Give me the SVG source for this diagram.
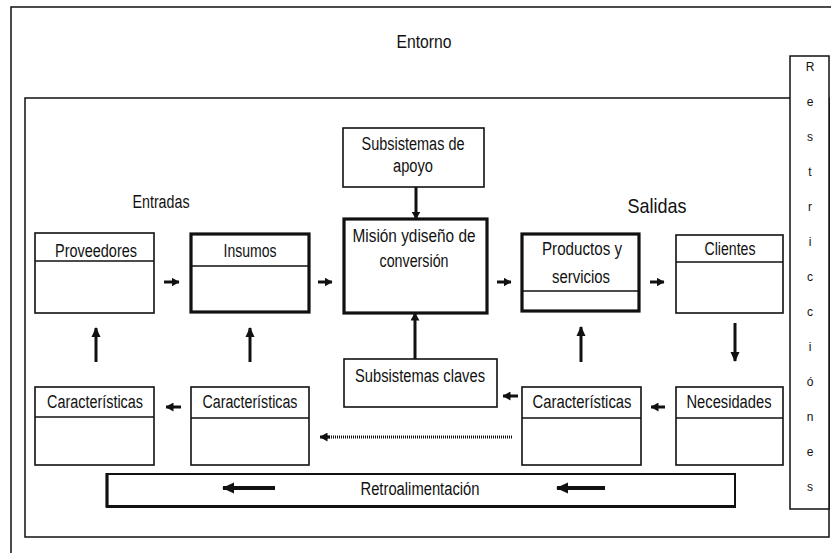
<svg xmlns="http://www.w3.org/2000/svg" width="831" height="553" viewBox="0 0 831 553">
<style>
  .frame{fill:none;stroke:#111;stroke-width:1.5}
  .box{fill:#fff;stroke:#111;stroke-width:1.6}
  .thick{fill:#fff;stroke:#111;stroke-width:3.2}
  .div{stroke:#111;stroke-width:1.6}
  .t{font-family:"Liberation Sans Narrow","Liberation Sans",Arial,sans-serif;font-size:18px;fill:#111;text-anchor:middle}
  .big{font-size:21px}
  .r{font-family:"Liberation Sans",Arial,sans-serif;font-size:12px;fill:#111;text-anchor:middle}
  .a{stroke:#111;stroke-width:3;fill:none}
  .s{stroke:#111;stroke-width:3;fill:none}
  .dot{stroke:#111;stroke-width:3;fill:none;stroke-dasharray:1 1}
</style>
<defs>
  <marker id="ah" markerUnits="userSpaceOnUse" markerWidth="10" markerHeight="10" viewBox="0 0 10 10" refX="9" refY="5" orient="auto">
    <path d="M0,0.5 L10,5 L0,9.5 Z" fill="#111"/>
  </marker>
  <marker id="sh" markerUnits="userSpaceOnUse" markerWidth="8" markerHeight="9" viewBox="0 0 8 9" refX="7.5" refY="4.5" orient="auto">
    <path d="M0,0 L8,4.5 L0,9 Z" fill="#111"/>
  </marker>
  <marker id="bh" markerUnits="userSpaceOnUse" markerWidth="12" markerHeight="12" viewBox="0 0 12 12" refX="11" refY="6" orient="auto">
    <path d="M0,0.5 L12,6 L0,11.5 Z" fill="#111"/>
  </marker>
</defs>

<g id="entorno">
  <rect class="frame" x="11" y="7" width="830" height="560"/>
  <text class="t" x="424" y="48" textLength="55" lengthAdjust="spacingAndGlyphs">Entorno</text>
</g>
<g id="sistema">
  <rect class="frame" x="25" y="98" width="804" height="439"/>
</g>
<g id="restricciones">
  <rect x="790" y="56" width="39" height="453" fill="#fff" stroke="#111" stroke-width="1.5"/>
  <text class="r" x="810" y="71">R</text>
  <text class="r" x="810" y="106">e</text>
  <text class="r" x="810" y="141">s</text>
  <text class="r" x="810" y="176">t</text>
  <text class="r" x="810" y="211">r</text>
  <text class="r" x="810" y="246">i</text>
  <text class="r" x="810" y="281">c</text>
  <text class="r" x="810" y="316">c</text>
  <text class="r" x="810" y="351">i</text>
  <text class="r" x="810" y="386">ó</text>
  <text class="r" x="810" y="421">n</text>
  <text class="r" x="810" y="456">e</text>
  <text class="r" x="810" y="491">s</text>
</g>
<g id="entradas-label"><text class="t" x="161" y="208" textLength="57" lengthAdjust="spacingAndGlyphs">Entradas</text></g>
<g id="salidas-label"><text class="t big" x="657" y="213" textLength="59" lengthAdjust="spacingAndGlyphs">Salidas</text></g>

<g id="proveedores">
  <rect class="box" x="35" y="233" width="119" height="80"/>
  <line class="div" x1="35" y1="261" x2="154" y2="261"/>
  <text class="t" x="96" y="257" textLength="82" lengthAdjust="spacingAndGlyphs">Proveedores</text>
</g>
<g id="insumos">
  <rect class="thick" x="191" y="234" width="118" height="78"/>
  <line class="div" x1="191" y1="266" x2="309" y2="266"/>
  <text class="t" x="250" y="257" textLength="53" lengthAdjust="spacingAndGlyphs">Insumos</text>
</g>
<g id="apoyo">
  <rect class="box" x="343" y="128" width="141" height="59"/>
  <text class="t" x="413" y="150" textLength="103" lengthAdjust="spacingAndGlyphs">Subsistemas de</text>
  <text class="t" x="413" y="172" textLength="40" lengthAdjust="spacingAndGlyphs">apoyo</text>
</g>
<g id="mision">
  <rect class="thick" x="344" y="219" width="143" height="94"/>
  <text class="t" x="414" y="242" textLength="123" lengthAdjust="spacingAndGlyphs">Misión ydiseño de</text>
  <text class="t" x="414" y="267" textLength="69" lengthAdjust="spacingAndGlyphs">conversión</text>
</g>
<g id="productos">
  <rect class="thick" x="522" y="234" width="117" height="77"/>
  <line class="div" x1="522" y1="291" x2="639" y2="291"/>
  <text class="t" x="582" y="255" textLength="80" lengthAdjust="spacingAndGlyphs">Productos y</text>
  <text class="t" x="581" y="283" textLength="58" lengthAdjust="spacingAndGlyphs">servicios</text>
</g>
<g id="clientes">
  <rect class="box" x="676" y="235" width="107" height="78"/>
  <line class="div" x1="676" y1="262" x2="783" y2="262"/>
  <text class="t" x="730" y="255" textLength="51" lengthAdjust="spacingAndGlyphs">Clientes</text>
</g>
<g id="caracteristicas1">
  <rect class="box" x="35" y="387" width="119" height="78"/>
  <line class="div" x1="35" y1="417" x2="154" y2="417"/>
  <text class="t" x="95" y="408" textLength="96" lengthAdjust="spacingAndGlyphs">Características</text>
</g>
<g id="caracteristicas2">
  <rect class="box" x="191" y="387" width="118" height="78"/>
  <line class="div" x1="191" y1="418" x2="309" y2="418"/>
  <text class="t" x="250" y="408" textLength="95" lengthAdjust="spacingAndGlyphs">Características</text>
</g>
<g id="claves">
  <rect class="box" x="344" y="359" width="153" height="48"/>
  <text class="t" x="420" y="382" textLength="130" lengthAdjust="spacingAndGlyphs">Subsistemas claves</text>
</g>
<g id="caracteristicas3">
  <rect class="box" x="522" y="387" width="119" height="78"/>
  <line class="div" x1="522" y1="418" x2="641" y2="418"/>
  <text class="t" x="582" y="408" textLength="99" lengthAdjust="spacingAndGlyphs">Características</text>
</g>
<g id="necesidades">
  <rect class="box" x="676" y="387" width="107" height="78"/>
  <line class="div" x1="676" y1="418" x2="783" y2="418"/>
  <text class="t" x="729" y="408" textLength="85" lengthAdjust="spacingAndGlyphs">Necesidades</text>
</g>
<g id="retroalimentacion">
  <rect x="107" y="474" width="628" height="32" fill="#fff" stroke="#111" stroke-width="2"/>
  <line x1="107" y1="473" x2="107" y2="507.5" stroke="#111" stroke-width="3.2"/>
  <line x1="106" y1="506.5" x2="736" y2="506.5" stroke="#111" stroke-width="3.2"/>
  <text class="t" x="420" y="495" textLength="119" lengthAdjust="spacingAndGlyphs">Retroalimentación</text>
</g>

<g id="connectors">
  <line class="s" x1="164" y1="282" x2="179" y2="282" marker-end="url(#sh)"/>
  <line class="s" x1="318" y1="282" x2="332" y2="282" marker-end="url(#sh)"/>
  <line class="s" x1="497" y1="282" x2="511" y2="282" marker-end="url(#sh)"/>
  <line class="s" x1="650" y1="282" x2="664" y2="282" marker-end="url(#sh)"/>
  <line class="s" x1="665" y1="407" x2="651" y2="407" marker-end="url(#sh)"/>
  <line class="s" x1="518" y1="396" x2="503" y2="396" marker-end="url(#sh)"/>
  <line class="s" x1="181" y1="407" x2="166" y2="407" marker-end="url(#sh)"/>
  <line class="a" x1="96" y1="362" x2="96" y2="328" marker-end="url(#ah)"/>
  <line class="a" x1="250" y1="362" x2="250" y2="328" marker-end="url(#ah)"/>
  <line class="a" x1="581" y1="362" x2="581" y2="327" marker-end="url(#ah)"/>
  <line class="a" x1="735" y1="323" x2="735" y2="361" marker-end="url(#ah)"/>
  <line class="a" x1="416" y1="187" x2="416" y2="219" marker-end="url(#sh)"/>
  <line class="a" x1="415" y1="359" x2="415" y2="313" marker-end="url(#sh)"/>
  <line class="dot" x1="512" y1="437" x2="326" y2="437"/>
  <line class="s" x1="330" y1="437" x2="320" y2="437" marker-end="url(#sh)"/>
  <line x1="275" y1="488" x2="223" y2="488" stroke="#111" stroke-width="4" marker-end="url(#bh)"/>
  <line x1="605" y1="488" x2="557" y2="488" stroke="#111" stroke-width="4" marker-end="url(#bh)"/>
</g>
</svg>
